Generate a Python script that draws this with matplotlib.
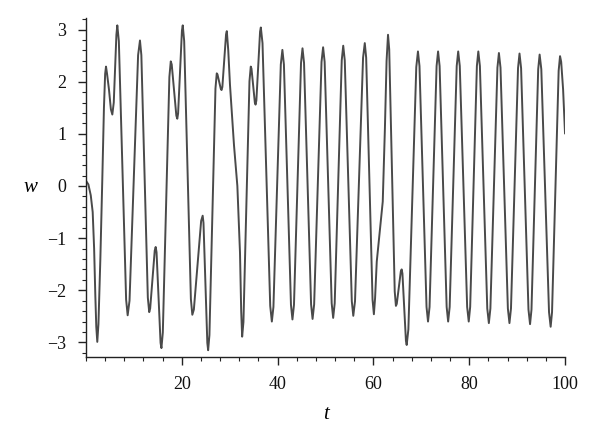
import matplotlib
matplotlib.use("Agg")
import matplotlib.pyplot as plt
from matplotlib.ticker import MultipleLocator

# values (t, w)
t_vals = [
    0.0, 0.5, 1.0, 1.4, 1.7, 1.95, 2.15, 2.36,
    2.6, 3.0, 3.4, 3.75, 4.0, 4.18,
    4.4, 4.8, 5.2, 5.5, 5.8, 6.1, 6.35, 6.54,
    6.86, 7.62, 8.38, 8.7,
    9.09, 9.99, 10.88, 11.27,
    11.56, 12.24, 12.91, 13.2,
    13.40, 13.88, 14.35, 14.55,
    14.73, 15.15, 15.57, 15.75,
    16.04, 16.73, 17.41, 17.7,
    17.90, 18.38, 18.86, 19.06,
    19.23, 19.63, 20.03, 20.2,
    20.5, 21.2, 21.9, 22.2,
    22.52, 23.28, 24.04, 24.36,
    24.53, 24.93, 25.33, 25.5,
    25.77, 26.4, 27.03, 27.3,
    27.45, 27.8, 28.15, 28.3,
    28.47, 28.85, 29.24, 29.4,
    29.7, 30.06, 30.9, 31.6, 32.15, 32.4, 32.6,
    32.87, 33.5, 34.13, 34.4,
    34.55, 34.9, 35.25, 35.4,
    35.57, 35.95, 36.34, 36.5,
    36.85, 37.65, 38.46, 38.8,
    39.13, 39.9, 40.67, 41.0,
    41.32, 42.05, 42.79, 43.1,
    43.42, 44.15, 44.89, 45.2,
    45.52, 46.25, 46.99, 47.3,
    47.63, 48.4, 49.17, 49.5,
    49.82, 50.55, 51.29, 51.6,
    51.92, 52.65, 53.39, 53.7,
    54.02, 54.75, 55.49, 55.8,
    56.16, 57.0, 57.84, 58.2,
    58.49, 59.15, 59.82, 60.1,
    60.35, 60.7, 61.4, 61.95, 62.4, 62.75, 63.05,
    63.30, 63.88, 64.45, 64.7,
    64.88, 65.3, 65.72, 65.9,
    66.06, 66.43, 66.79, 66.95,
    67.30, 68.13, 68.95, 69.3,
    69.62, 70.35, 71.09, 71.4,
    71.72, 72.45, 73.19, 73.5,
    73.82, 74.55, 75.29, 75.6,
    75.92, 76.65, 77.39, 77.7,
    78.03, 78.8, 79.57, 79.9,
    80.2, 80.9, 81.6, 81.9,
    82.23, 83.0, 83.77, 84.1,
    84.42, 85.15, 85.89, 86.2,
    86.53, 87.3, 88.07, 88.4,
    88.72, 89.45, 90.19, 90.5,
    90.83, 91.6, 92.37, 92.7,
    93.0, 93.7, 94.4, 94.7,
    95.05, 95.85, 96.66, 97.0,
    97.29, 97.98, 98.67, 98.96,
    99.2, 99.6, 100.0,
]
w_vals = [
    0.10, 0.03, -0.18, -0.5, -1.2, -2.1, -2.7, -2.99,
    -2.65, -1.4, 0.1, 1.5, 2.15, 2.29,
    2.15, 1.85, 1.47, 1.37, 1.6, 2.3, 2.9, 3.08,
    2.78, 0.30, -2.18, -2.48,
    -2.20, 0.155, 2.51, 2.79,
    2.51, 0.19, -2.14, -2.42,
    -2.35, -1.80, -1.24, -1.17,
    -1.27, -2.14, -3.01, -3.11,
    -2.81, -0.36, 2.09, 2.39,
    2.33, 1.84, 1.35, 1.29,
    1.39, 2.19, 2.98, 3.08,
    2.78, 0.31, -2.17, -2.47,
    -2.37, -1.52, -0.67, -0.57,
    -0.71, -1.86, -3.01, -3.15,
    -2.86, -0.50, 1.87, 2.16,
    2.14, 2.0, 1.86, 1.84,
    1.90, 2.41, 2.91, 2.97,
    2.6, 1.94, 0.78, 0.0, -1.28, -2.4, -2.89,
    -2.61, -0.30, 2.01, 2.29,
    2.25, 1.93, 1.60, 1.56,
    1.64, 2.30, 2.96, 3.04,
    2.74, 0.22, -2.30, -2.6,
    -2.32, 0.0, 2.33, 2.61,
    2.33, 0.03, -2.28, -2.56,
    -2.28, 0.04, 2.36, 2.64,
    2.36, 0.05, -2.27, -2.55,
    -2.27, 0.06, 2.38, 2.66,
    2.38, 0.07, -2.25, -2.53,
    -2.25, 0.08, 2.41, 2.69,
    2.41, 0.10, -2.21, -2.49,
    -2.21, 0.13, 2.46, 2.74,
    2.46, 0.14, -2.18, -2.46,
    -2.15, -1.45, -0.8, -0.3, 1.1, 2.4, 2.9,
    2.62, 0.30, -2.02, -2.3,
    -2.26, -1.95, -1.64, -1.6,
    -1.68, -2.33, -2.97, -3.05,
    -2.75, -0.24, 2.28, 2.58,
    2.30, -0.01, -2.32, -2.6,
    -2.32, -0.01, 2.30, 2.58,
    2.30, -0.01, -2.32, -2.6,
    -2.32, -0.01, 2.30, 2.58,
    2.30, -0.01, -2.32, -2.6,
    -2.32, -0.01, 2.30, 2.58,
    2.30, -0.03, -2.35, -2.63,
    -2.35, -0.04, 2.27, 2.55,
    2.27, -0.04, -2.35, -2.63,
    -2.35, -0.05, 2.26, 2.54,
    2.26, -0.06, -2.37, -2.65,
    -2.37, -0.07, 2.24, 2.52,
    2.24, -0.09, -2.42, -2.7,
    -2.42, -0.11, 2.21, 2.49,
    2.38, 1.85, 1.01,
]

x_ticks = [20, 40, 60, 80, 100]
y_ticks = [-3, -2, -1, 0, 1, 2, 3]
y_tick_labels = ["\u22123", "\u22122", "\u22121", "0", "1", "2", "3"]

plt.rcParams["font.family"] = ["Liberation Serif", "DejaVu Serif"]

fig = plt.figure(figsize=(6.0, 4.41), dpi=100)
ax = fig.add_axes([0.1433, 0.1905, 0.7984, 0.7685])

ax.plot(t_vals, w_vals, color="#4a4a4a", lw=1.4, solid_joinstyle="round")

ax.set_xlim(0, 100)
ax.set_ylim(-3.28, 3.22)
ax.set_xticks(x_ticks)
ax.set_xticklabels([str(v) for v in x_ticks])
ax.set_yticks(y_ticks)
ax.set_yticklabels(y_tick_labels)
ax.xaxis.set_minor_locator(MultipleLocator(4))
ax.yaxis.set_minor_locator(MultipleLocator(0.2))

for s in ["top", "right"]:
    ax.spines[s].set_visible(False)
for s in ["left", "bottom"]:
    ax.spines[s].set_color("#222222")
    ax.spines[s].set_linewidth(1.0)

ax.tick_params(which="major", direction="out", length=6, width=1.0,
               colors="#222222", labelsize=13, labelcolor="#111111")
ax.tick_params(which="minor", direction="out", length=3, width=0.8,
               colors="#222222")
ax.tick_params(axis="x", pad=8)
ax.tick_params(axis="y", pad=8)

ax.set_xlabel("t", fontstyle="italic", fontsize=15, labelpad=8)
ax.set_ylabel("w", fontstyle="italic", fontsize=15, rotation=0, labelpad=12,
              va="center")

fig.savefig("out.png", dpi=100)
